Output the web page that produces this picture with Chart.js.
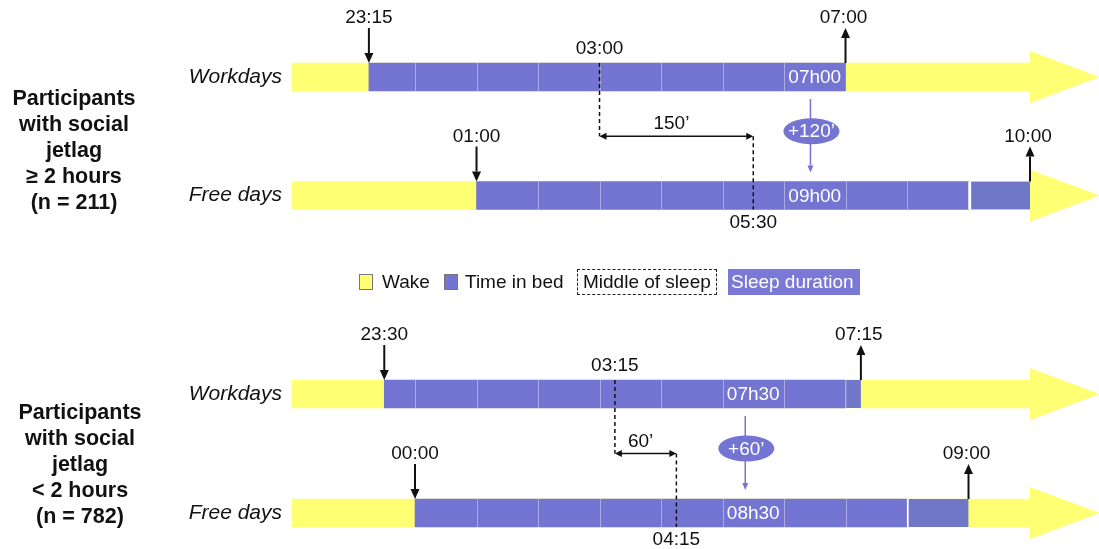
<!DOCTYPE html>
<html><head><meta charset="utf-8">
<script src="https://cdn.jsdelivr.net/npm/chart.js@4.4.1/dist/chart.umd.min.js"></script>
<style>
html,body{margin:0;padding:0;background:#fff;overflow:hidden}
#wrap{position:relative;width:1099px;height:549px;overflow:hidden;font-family:'Liberation Sans',Arial,sans-serif;color:#111}
canvas{position:absolute;left:0}
.group{position:absolute;left:0;text-align:center;font-weight:bold;font-size:21.5px;line-height:26px}
.lg{position:absolute;top:269px;height:26px;line-height:26px;font-size:19px;white-space:nowrap;box-sizing:border-box}
.sw{position:absolute;top:274px;height:16px;box-sizing:border-box;border:1px solid #777}
</style></head>
<body><div id="wrap">
<canvas id="c1" width="1099" height="292" style="top:-10px"></canvas>
<canvas id="c2" width="1099" height="300" style="top:300px"></canvas>
<div class="group" id="g1" style="top:85px;width:148px"></div>
<div class="group" id="g2" style="top:399px;width:160px"></div>
<div class="sw" style="left:359px;width:14px;background:#FFFF74"></div>
<div class="lg" style="left:382px">Wake</div>
<div class="sw" style="left:444px;width:14px;background:#7474D2"></div>
<div class="lg" style="left:465px">Time in bed</div>
<div class="lg" style="left:577px;width:140px;border:1.5px dashed #222;line-height:23px;padding-left:5px">Middle of sleep</div>
<div class="lg" style="left:728px;width:132px;background:#7A7AD6;color:#fff;padding-left:3px">Sleep duration</div>
</div>
<script>
// ---- data (hours relative to midnight; negative = previous evening) ----
const rows = ['Workdays', 'Free days'];

const groupHigh = ['Participants', 'with social', 'jetlag', '\u2265 2 hours', '(n = 211)'];
const highWake = [[-2, 10], [-2, 10]];
const highBed = [[-0.75, 7], [1, 9]];
const highExtra = [null, [9, 10]];
const highBedAt = [-0.75, 1];
const highBedText = ['23:15', '01:00'];
const highWakeAt = [7, 10];
const highWakeText = ['07:00', '10:00'];
const highMid = [3, 5.5];
const highMidText = ['03:00', '05:30'];
const highMidDiff = '150\u2019';
const highSleepAt = [6.5, 6.5];
const highSleepText = ['07h00', '09h00'];
const highDiffAt = 6.43;
const highDiffText = '+120\u2019';

const groupLow = ['Participants', 'with social', 'jetlag', '< 2 hours', '(n = 782)'];
const lowWake = [[-2, 10], [-2, 10]];
const lowBed = [[-0.5, 7], [0, 8]];
const lowExtra = [[7, 7.25], [8, 9]];
const lowBedAt = [-0.5, 0];
const lowBedText = ['23:30', '00:00'];
const lowWakeAt = [7.25, 9];
const lowWakeText = ['07:15', '09:00'];
const lowMid = [3.25, 4.25];
const lowMidText = ['03:15', '04:15'];
const lowMidDiff = '60\u2019';
const lowSleepAt = [5.5, 5.5];
const lowSleepText = ['07h30', '08h30'];
const lowDiffAt = 5.37;
const lowDiffText = '+60\u2019';

const arrowTip = 11.13;

// ---- styles ----
const YELLOW = '#FFFF74', PURPLE = '#7474D2', PURPLE2 = '#7077C8', DIFFC = '#7474D2';
const FONT = "'Liberation Sans', Arial, sans-serif";
Chart.defaults.font.family = FONT;
const highGapStyle = [{ w: 0, c: '#fff' }, { w: 3, c: '#fff' }];
const lowGapStyle = [{ w: 1, c: 'rgba(255,255,255,0.45)' }, { w: 2, c: '#fff' }];

document.getElementById('g1').innerHTML = groupHigh.join('<br>');
document.getElementById('g2').innerHTML = groupLow.join('<br>');

function makeAnnot(o) {
  return {
    id: 'sleepAnnot',
    afterDatasetsDraw(chart) {
      const ctx = chart.ctx, xs = chart.scales.x, ys = chart.scales.y;
      const X = v => xs.getPixelForValue(v);
      const Y = i => ys.getPixelForValue(i);
      const HB = 14;
      ctx.save();
      // yellow arrow heads
      ctx.fillStyle = YELLOW;
      o.wake.forEach((w, i) => {
        const yc = Y(i);
        ctx.beginPath();
        ctx.moveTo(X(w[1]), yc - 26);
        ctx.lineTo(X(arrowTip), yc);
        ctx.lineTo(X(w[1]), yc + 26);
        ctx.closePath(); ctx.fill();
      });
      // hourly dividers
      ctx.strokeStyle = 'rgba(255,255,255,0.4)'; ctx.lineWidth = 1;
      o.bed.forEach((b, i) => {
        const yc = Y(i);
        for (let h = Math.floor(b[0]) + 1; h < b[1]; h++) {
          const x = Math.round(X(h)) + 0.5;
          ctx.beginPath(); ctx.moveTo(x, yc - HB); ctx.lineTo(x, yc + HB); ctx.stroke();
        }
      });
      // sleep duration text
      ctx.fillStyle = '#fff'; ctx.font = '19px ' + FONT;
      ctx.textAlign = 'center'; ctx.textBaseline = 'middle';
      o.sleepText.forEach((t, i) => ctx.fillText(t, X(o.sleepAt[i]), Y(i) + 1));

      const y0 = Y(0), y1 = Y(1);
      const yMid = ((y0 + HB) + (y1 - HB)) / 2;

      function vArrow(x, yFrom, yTo, lw, hl, hw, color) {
        const s = yTo > yFrom ? 1 : -1;
        ctx.strokeStyle = color; ctx.fillStyle = color; ctx.lineWidth = lw;
        ctx.beginPath(); ctx.moveTo(x, yFrom); ctx.lineTo(x, yTo - s * hl); ctx.stroke();
        ctx.beginPath(); ctx.moveTo(x, yTo); ctx.lineTo(x - hw, yTo - s * hl); ctx.lineTo(x + hw, yTo - s * hl); ctx.closePath(); ctx.fill();
      }
      // time markers
      ctx.font = '19px ' + FONT; ctx.textBaseline = 'middle';
      [0, 1].forEach(i => {
        const top = Y(i) - HB;
        const xb = X(o.bedAt[i]);
        vArrow(xb, top - 35, top, 2, 10, 4.5, '#111');
        ctx.fillStyle = '#111'; ctx.fillText(o.bedText[i], xb, top - 45);
        const xw = X(o.wakeAt[i]);
        vArrow(xw, top, top - 35, 2, 10, 4.5, '#111');
        ctx.fillStyle = '#111'; ctx.fillText(o.wakeText[i], xw - 2, top - 45);
      });

      // middle of sleep
      const xm0 = X(o.mid[0]), xm1 = X(o.mid[1]);
      ctx.strokeStyle = '#111'; ctx.lineWidth = 1.5; ctx.setLineDash([4, 3]);
      ctx.beginPath(); ctx.moveTo(xm0, y0 - HB); ctx.lineTo(xm0, yMid); ctx.stroke();
      ctx.beginPath(); ctx.moveTo(xm1, yMid); ctx.lineTo(xm1, y1 + HB); ctx.stroke();
      ctx.setLineDash([]);
      ctx.beginPath(); ctx.moveTo(xm0 + 5, yMid); ctx.lineTo(xm1 - 5, yMid); ctx.stroke();
      ctx.fillStyle = '#111';
      ctx.beginPath(); ctx.moveTo(xm0, yMid); ctx.lineTo(xm0 + 7, yMid - 3.5); ctx.lineTo(xm0 + 7, yMid + 3.5); ctx.closePath(); ctx.fill();
      ctx.beginPath(); ctx.moveTo(xm1, yMid); ctx.lineTo(xm1 - 7, yMid - 3.5); ctx.lineTo(xm1 - 7, yMid + 3.5); ctx.closePath(); ctx.fill();
      ctx.fillText(o.midText[0], xm0, y0 - HB - 14);
      ctx.fillText(o.midText[1], xm1, y1 + HB + 13);
      ctx.fillText(o.midDiff, (xm0 + xm1) / 2 - 5, yMid - 12);

      // sleep duration difference
      const xd = X(o.diffAt);
      vArrow(xd, y0 + HB + 8, y1 - HB - 9, 1.5, 7, 3, DIFFC);
      ctx.fillStyle = DIFFC;
      ctx.beginPath(); ctx.ellipse(xd + 1, yMid - 5, 28, 13, 0, 0, Math.PI * 2); ctx.fill();
      ctx.fillStyle = '#fff';
      ctx.fillText(o.diffText, xd + 1, yMid - 4);
      ctx.restore();
    }
  };
}

function makeChart(id, wake, bed, extra, gapStyle, annot, padTop, padBottom) {
  return new Chart(document.getElementById(id), {
    type: 'bar',
    data: {
      labels: rows,
      datasets: [
        { label: 'Wake', data: wake, backgroundColor: YELLOW, borderWidth: 0, order: 3 },
        { label: 'Time in bed', data: bed, backgroundColor: PURPLE, borderWidth: 0, order: 2 },
        { label: 'Extra', data: extra, backgroundColor: PURPLE2,
          borderColor: c => gapStyle[c.dataIndex].c,
          borderWidth: c => ({ left: gapStyle[c.dataIndex].w, right: 0, top: 0, bottom: 0 }),
          borderSkipped: false, order: 1 }
      ]
    },
    options: {
      indexAxis: 'y',
      responsive: false,
      animation: false,
      events: [],
      datasets: { bar: { barThickness: 28, grouped: false } },
      layout: { padding: { top: padTop, bottom: padBottom, left: 0, right: 0 } },
      plugins: { legend: { display: false }, tooltip: { enabled: false } },
      scales: {
        x: { type: 'linear', display: false, min: -2.033, max: 11.122 },
        y: {
          type: 'category',
          grid: { display: false, drawTicks: false },
          border: { display: false },
          ticks: { color: '#111', padding: 8, font: { size: 21, style: 'italic' } },
          afterFit: s => { s.width = 290; }
        }
      }
    },
    plugins: [makeAnnot(annot)]
  });
}

// top canvas starts at y=-10: rows at 77 and 195.5
makeChart('c1', highWake, highBed, highExtra, highGapStyle, {
  wake: highWake, bed: highBed, bedAt: highBedAt, bedText: highBedText,
  wakeAt: highWakeAt, wakeText: highWakeText, mid: highMid, midText: highMidText,
  midDiff: highMidDiff, sleepAt: highSleepAt, sleepText: highSleepText,
  diffAt: highDiffAt, diffText: highDiffText
}, 27.75, 27.25);

// bottom canvas starts at y=300: rows at 394 and 513
makeChart('c2', lowWake, lowBed, lowExtra, lowGapStyle, {
  wake: lowWake, bed: lowBed, bedAt: lowBedAt, bedText: lowBedText,
  wakeAt: lowWakeAt, wakeText: lowWakeText, mid: lowMid, midText: lowMidText,
  midDiff: lowMidDiff, sleepAt: lowSleepAt, sleepText: lowSleepText,
  diffAt: lowDiffAt, diffText: lowDiffText
}, 34.5, 27.5);
</script>
</body></html>
